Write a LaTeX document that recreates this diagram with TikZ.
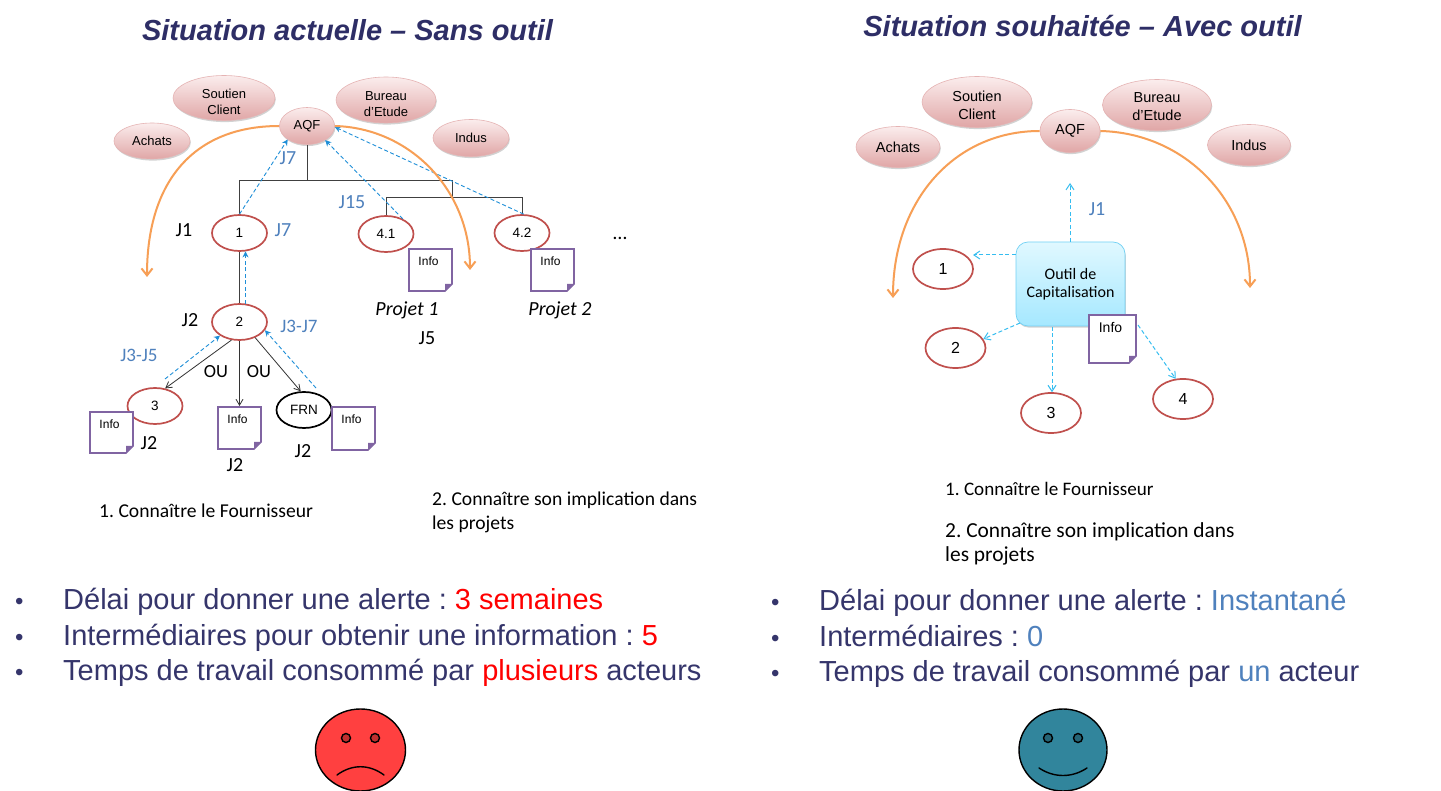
\documentclass[tikz,border=0pt]{standalone}
\usepackage{fontspec}
\setmainfont{Liberation Sans}
\newfontfamily\calib{Carlito}
\usetikzlibrary{shapes.geometric,arrows.meta,shadows}
\frenchspacing
\definecolor{navy}{HTML}{2E2E66}
\definecolor{bulltxt}{HTML}{35356B}
\definecolor{lblue}{HTML}{4F81BD}
\definecolor{dashblue}{HTML}{1F8FD8}
\definecolor{cyandash}{HTML}{35BDF0}
\definecolor{redring}{HTML}{C0504D}
\definecolor{notepurple}{HTML}{8064A2}
\definecolor{arcor}{HTML}{F79F56}
\definecolor{pinktop}{HTML}{FBEDED}
\definecolor{pinkbot}{HTML}{E0A6A6}
\definecolor{boxtop}{HTML}{E0F8FF}
\definecolor{boxbot}{HTML}{A5E8FF}
\tikzset{
  dept/.style={ellipse,draw=pinkbot!85!white,line width=.6pt,inner sep=0pt,top color=pinktop,bottom color=pinkbot,
    drop shadow={opacity=.35,shadow xshift=.8pt,shadow yshift=-1.6pt},text=black,align=center,font=\fontsize{13}{16}\selectfont},
  bigdept/.style={dept,font=\fontsize{14.5}{18}\selectfont},
  depttext/.style={inner sep=0pt,align=center,font=\fontsize{13}{16}\selectfont},
  bigdepttext/.style={inner sep=0pt,align=center,font=\fontsize{14.5}{18}\selectfont},
  actor/.style={ellipse,draw=redring,line width=1.7pt,inner sep=0pt,minimum width=55pt,minimum height=36pt,fill=white,font=\fontsize{13.5}{15}\selectfont},
  bigactor/.style={actor,minimum width=60pt,minimum height=40pt,font=\fontsize{16}{18}\selectfont},
  blacktor/.style={actor,draw=black},
  lab/.style={inner sep=0pt,font=\calib\fontsize{20}{24}\selectfont},
  bl/.style={lab,text=lblue},
  para/.style={anchor=base west,inner sep=0pt,font=\calib\fontsize{19.6}{24}\selectfont},
  parab/.style={para,font=\calib\fontsize{21.4}{24}\selectfont},
  parac/.style={para,font=\calib\fontsize{19.1}{24}\selectfont},
  title/.style={inner sep=0pt,text=navy,font=\fontsize{29}{34}\selectfont\bfseries\itshape},
  bullet/.style={anchor=base west,inner sep=0pt,text=bulltxt,font=\fontsize{29}{34}\selectfont},
  bulletdot/.style={anchor=base west,inner sep=0pt,text=bulltxt,font=\fontsize{24}{34}\selectfont},
  tree/.style={draw=black!75,line width=.9pt},
  tarrow/.style={draw=black!80,line width=.8pt,-{Straight Barb[length=6pt,width=7pt]}},
  dashb/.style={draw=dashblue,line width=.9pt,dash pattern=on 4pt off 2.5pt,-{Stealth[length=6pt,width=6pt]}},
  dashc/.style={draw=cyandash,line width=1pt,dash pattern=on 4pt off 2.5pt,-{Straight Barb[length=6pt,width=8pt]}},
  arc/.style={draw=arcor,line width=2pt,-{Straight Barb[length=7pt,width=11pt]}},
  face/.style={circle,draw=black,line width=1.4pt,inner sep=0pt},
  notetext/.style={inner sep=0pt,anchor=north,font=\fontsize{12}{14}\selectfont},
}
% #1 name, #2 left, #3 top, #4 width, #5 height
\newcommand{\infonote}[5]{%
  \draw[draw=notepurple,line width=1.6pt,fill=white,line join=miter]
    (#2,#3) -- ++(#4,0) -- ++(0,#5-7) -- ++(-7,7) -- ++(-#4+7,0) -- cycle;
  \fill[notepurple] (#2+#4,#3+#5-7) -- ++(-7,7) -- ++(0,-7) -- cycle;
  \node[notetext] (#1) at (#2+#4/2-2,#3+7.5) {Info};}
\begin{document}
\begin{tikzpicture}[x=1pt,y=-1pt]
\useasboundingbox[fill=white] (0,0) rectangle (1441,791);
% titles
\node[title] (t1) at (347.5,30) {Situation actuelle – Sans outil};
\node[title] (t2) at (1082.5,26) {Situation souhaitée – Avec outil};
% ---------- left diagram
\node[dept,minimum width=76pt,minimum height=36pt] (achats) at (152,141) {Achats};
\node[dept,minimum width=102pt,minimum height=45pt] (soutien) at (224,98) {};
\node[depttext] (soutienT) at (224,102) {Soutien\\Client};
\node[dept,minimum width=100pt,minimum height=46pt] (bureau) at (386,100) {};
\node[depttext] (bureauT) at (386,104) {Bureau\\d’Etude};
\node[dept,minimum width=76pt,minimum height=37pt] (indus) at (471,138) {Indus};
\node[actor] (n1) at (239.5,233) {1};
\node[actor] (n41) at (386,234) {4.1};
\node[actor] (n42) at (522,233) {4.2};
\node[actor] (n2) at (239.5,322) {2};
\node[actor] (n3) at (155,406) {3};
\node[blacktor] (frn) at (304,410) {FRN};
\node[dept,minimum width=55pt,minimum height=37pt] (aqf) at (307,126) {AQF};
% tree
\coordinate (tl) at (239.5,180);
\coordinate (tm) at (307,180);
\coordinate (tr) at (452,180);
\coordinate (ur) at (452,197);
\coordinate (ul) at (386,197);
\coordinate (uk) at (522,197);
\draw[tree] (aqf.south) -- (tm);
\draw[tree] (n1.north) -- (tl) -- (tr) -- (ur);
\draw[tree] (n41.north) -- (ul) -- (uk) -- (n42.north);
\draw[tree,line width=1.2pt] (n1.south) -- (n2.north);
\infonote{i3}{90}{412}{43}{41}
\infonote{i0}{218}{407}{43}{42}
\infonote{if}{332}{407}{43}{43}
\infonote{ip1}{409}{249}{43}{42}
\infonote{ip2}{531}{249}{43}{42}
\draw[tarrow] (n2.246) -- (n3.60);
\draw[tarrow] (n2.south) -- (n2.south |- 0,406);
\draw[tarrow] (n2.-45) -- (frn.100);
% dashed
\coordinate (c3) at (165,379);
\coordinate (cf) at (316,388);
\draw[dashb] (n1.north) -- (aqf.215);
\draw[dashb] (n41.42) -- (aqf.322);
\draw[dashb] (n42.85) -- (aqf.358);
\draw[dashb] (n2.72) -- (n1.288);
\draw[dashb] (c3) -- (n2.215);
\draw[dashb] (cf) -- (n2.-18);
% arcs
\coordinate (al) at (147,277);
\coordinate (ar) at (470,270);
\draw[arc] (aqf.west) .. controls (195,126) and (147,180) .. (al);
\draw[arc] (aqf.east) .. controls (410,128) and (470,190) .. (ar);
% labels
\node[bl] (lj7a) at (288,158) {J7};
\node[bl] (lj7b) at (283,230) {J7};
\node[bl] (lj15) at (352,202) {J15};
\node[lab] (lj1) at (184,230) {J1};
\node[lab] (lj2a) at (190,320) {J2};
\node[bl,font=\calib\fontsize{19}{24}\selectfont] (lj37) at (299,326) {J3-J7};
\node[bl,font=\calib\fontsize{19}{24}\selectfont] (lj35) at (139,355) {J3-J5};
\node[lab,font=\calib\fontsize{18.5}{24}\selectfont] (lou1) at (216,372) {OU};
\node[lab,font=\calib\fontsize{18.5}{24}\selectfont] (lou2) at (259,372) {OU};
\node[lab] (lj2b) at (149,443) {J2};
\node[lab] (lj2c) at (235,465) {J2};
\node[lab] (lj2d) at (303,451) {J2};
\node[lab] (ldots) at (620,238) {…};
\node[lab,font=\calib\itshape\fontsize{20}{24}\selectfont] (lp1) at (407,310) {Projet 1};
\node[lab,font=\calib\itshape\fontsize{20}{24}\selectfont] (lp2) at (560,310) {Projet 2};
\node[lab] (lj5) at (427,338) {J5};
\node[para] (p1) at (99,517.5) {1. Connaître le Fournisseur};
\node[para] (p2a) at (432,505.5) {2. Connaître son implication dans};
\node[para] (p2b) at (432,529.5) {les projets};
% ---------- right diagram
\node[bigdept,minimum width=84pt,minimum height=41pt] (achatsR) at (898,147) {Achats};
\node[bigdept,minimum width=110pt,minimum height=51pt] (soutienR) at (977,102) {};
\node[bigdepttext] (soutienRT) at (977,105) {Soutien\\Client};
\node[bigdept,minimum width=109pt,minimum height=51pt] (bureauR) at (1157,105) {};
\node[bigdepttext] (bureauRT) at (1157,107) {Bureau\\d’Etude};
\node[bigdept,minimum width=83pt,minimum height=41pt] (indusR) at (1249,145) {Indus};
\node[bigdept,minimum width=60pt,minimum height=43pt] (aqfR) at (1070,131) {AQF};
\coordinate (alR) at (893,298);
\coordinate (arR) at (1250,288);
\draw[arc] (aqfR.west) .. controls (955,131) and (893,200) .. (alR);
\draw[arc] (aqfR.east) .. controls (1185,133) and (1250,200) .. (arR);
\node[bigactor] (r1) at (943,269) {1};
\node[bigactor] (r2) at (955.5,348) {2};
\node[bigactor] (r3) at (1051,413) {3};
\node[bigactor] (r4) at (1183,399) {4};
\node[rounded corners=12pt,draw=cyandash!70,line width=.7pt,top color=boxtop,bottom color=boxbot,
  minimum width=109pt,minimum height=84pt,align=center,inner sep=0pt,
  drop shadow={opacity=.35,shadow xshift=.8pt,shadow yshift=-1.6pt},
  font=\calib\fontsize{16}{18.5}\selectfont] (outil) at (1070.5,284) {Outil de\\Capitalisation};
\begin{scope}[notetext/.append style={font=\fontsize{14}{16}\selectfont}]
\infonote{iR}{1089}{315}{47}{48}
\end{scope}
\coordinate (top) at (1070,183);
\coordinate (b1) at (973,255);
\coordinate (b2) at (1020,323);
\coordinate (b3) at (1052,327);
\coordinate (b4) at (1138,325);
\draw[dashc] (outil.north -| top) -- (top);
\draw[dashc] (outil.west |- b1) -- (b1);
\draw[dashc] (b2) -- (r2.18);
\draw[dashc] (b3) -- (r3.north -| b3);
\draw[dashc] (b4) -- (r4.110);
\node[bl] (ljr) at (1097,209) {J1};
\node[parac] (q1) at (945,496) {1. Connaître le Fournisseur};
\node[parab] (q2a) at (945,537) {2. Connaître son implication dans};
\node[parab] (q2b) at (945,561) {les projets};
% ---------- bullets
\node[bulletdot] (ba1) at (15,609) {•};
\node[bulletdot] (ba2) at (15,645) {•};
\node[bulletdot] (ba3) at (15,680) {•};
\node[bullet] (ta1) at (63,609.5) {Délai pour donner une alerte : \textcolor{red}{3 semaines}};
\node[bullet] (ta2) at (63,645) {Intermédiaires pour obtenir une information : \textcolor{red}{5}};
\node[bullet] (ta3) at (63,680) {Temps de travail consommé par \textcolor{red}{plusieurs} acteurs};
\node[bulletdot] (bb1) at (771,610) {•};
\node[bulletdot] (bb2) at (771,646) {•};
\node[bulletdot] (bb3) at (771,681) {•};
\node[bullet] (tb1) at (819,610) {Délai pour donner une alerte : \textcolor{lblue}{Instantané}};
\node[bullet] (tb2) at (819,646) {Intermédiaires : \textcolor{lblue}{0}};
\node[bullet] (tb3) at (819,681) {Temps de travail consommé par \textcolor{lblue}{un} acteur};
% ---------- faces
\definecolor{facered}{HTML}{FF4040}
\definecolor{faceblue}{HTML}{31859C}
\draw[face,fill=facered] (360.5,750) ellipse [x radius=45,y radius=41];
\draw[face,fill=facered!75!black] (346,738) circle (4.5);
\draw[face,fill=facered!75!black] (375,738) circle (4.5);
\draw[line width=1.4pt,line cap=round] (337,775) .. controls (352,764) and (369,764) .. (384,775);
\draw[face,fill=faceblue] (1063,750) ellipse [x radius=44,y radius=41];
\draw[face,fill=faceblue!75!black] (1048,738) circle (4.5);
\draw[face,fill=faceblue!75!black] (1078,738) circle (4.5);
\draw[line width=1.4pt,line cap=round] (1039,768) .. controls (1054,778) and (1072,778) .. (1087,768);
\end{tikzpicture}
\end{document}
